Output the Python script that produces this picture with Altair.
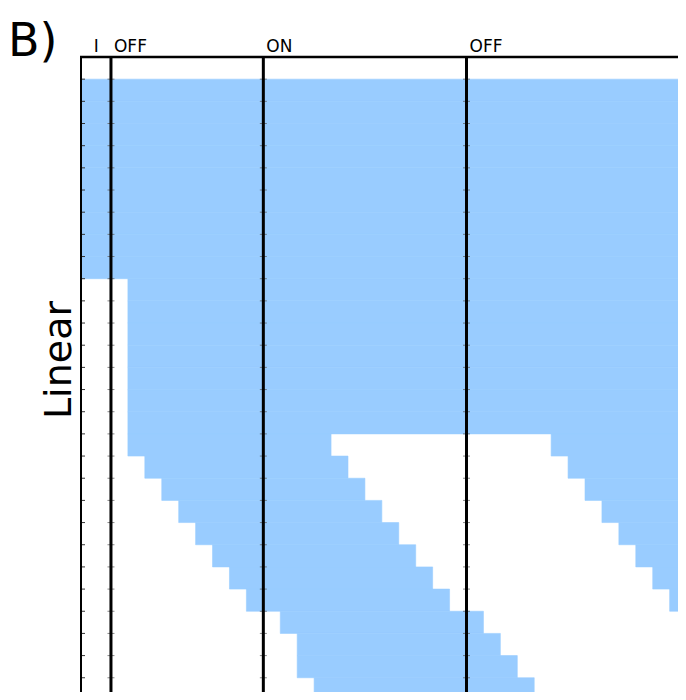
import altair as alt
import pandas as pd

# ---- data ----
# blue segments: row index (0 = top row), start/end in column units
seg_row = [1, 2, 3, 4, 5, 6, 7, 8, 9,
           10, 11, 12, 13, 14, 15, 16,
           17, 17, 18, 18, 19, 19, 20, 20, 21, 21, 22, 22, 23, 23, 24, 24,
           25, 26, 27, 28]
seg_start = [-2, -2, -2, -2, -2, -2, -2, -2, -2,
             1, 1, 1, 1, 1, 1, 1,
             1, 26, 2, 27, 3, 28, 4, 29, 5, 30, 6, 31, 7, 32, 8, 33,
             10, 11, 11, 12]
seg_end = [35, 35, 35, 35, 35, 35, 35, 35, 35,
           35, 35, 35, 35, 35, 35, 35,
           13, 35, 14, 35, 15, 35, 16, 35, 17, 35, 18, 35, 19, 35, 20, 35,
           22, 23, 24, 25]

phase_labels = ["I", "OFF", "ON", "OFF"]
phase_label_x = [-1.2, 0, 9, 21]
phase_lines = [0, 9, 21]
row_boundaries = list(range(1, 29))

PX_X = 16.93          # pixels per column unit
PX_Y = 22.17          # pixels per row
W, H = 597, 635       # plot area (kept inside the page, no overflow)
X_DOMAIN = [-1.77, -1.77 + W / PX_X]
Y_DOMAIN = [0, H / PX_Y]
BLUE = "#99ccff"
FONT = "DejaVu Sans"

xs = alt.Scale(domain=X_DOMAIN, nice=False, zero=False)
ys = alt.Scale(domain=Y_DOMAIN, nice=False, zero=False, reverse=True)

segs = pd.DataFrame({"r0": seg_row, "x0": seg_start, "x1": seg_end})
segs["r1"] = segs["r0"] + 1

rects = alt.Chart(segs).mark_rect(
    color=BLUE, stroke=BLUE, strokeWidth=0.6, clip=True
).encode(
    x=alt.X("x0:Q", scale=xs, axis=None),
    x2="x1:Q",
    y=alt.Y("r0:Q", scale=ys, axis=None),
    y2="r1:Q",
)

lines_df = pd.DataFrame({"x": phase_lines})
vlines = alt.Chart(lines_df).mark_rule(color="black", strokeWidth=3).encode(
    x=alt.X("x:Q", scale=xs, axis=None),
    y=alt.value(0),
    y2=alt.value(H),
)

one = pd.DataFrame({"a": [0]})
left_frame = alt.Chart(one).mark_rule(color="black", strokeWidth=2).encode(
    x=alt.value(0), y=alt.value(0), y2=alt.value(H)
)
top_frame = alt.Chart(one).mark_rule(color="black", strokeWidth=2.5).encode(
    x=alt.value(-1), x2=alt.value(W), y=alt.value(0)
)

tick_rows = []
for lx in phase_lines:
    for b in row_boundaries:
        tick_rows.append({"x": lx, "b": b})
ticks_df = pd.DataFrame(tick_rows)
inner_ticks = alt.Chart(ticks_df).mark_tick(
    orient="horizontal", size=7, thickness=1, color="#555555"
).encode(
    x=alt.X("x:Q", scale=xs, axis=None),
    y=alt.Y("b:Q", scale=ys, axis=None),
)

bdf = pd.DataFrame({"b": row_boundaries})
left_ticks = alt.Chart(bdf).mark_rule(color="#333333", strokeWidth=1).encode(
    x=alt.value(0), x2=alt.value(4),
    y=alt.Y("b:Q", scale=ys, axis=None),
)

lab_df = pd.DataFrame({"label": phase_labels, "x": phase_label_x})
labels = alt.Chart(lab_df).mark_text(
    font=FONT, fontSize=17, align="left", baseline="alphabetic", dx=3, color="black"
).encode(
    x=alt.X("x:Q", scale=xs, axis=None),
    y=alt.value(-5),
    text="label:N",
)

panel = alt.Chart(one).mark_text(
    font=FONT, fontSize=46, align="left", baseline="alphabetic", color="black"
).encode(x=alt.value(-73), y=alt.value(-1), text=alt.value("B)"))

ylab = alt.Chart(one).mark_text(
    font=FONT, fontSize=38, align="center", baseline="alphabetic", angle=270, color="black"
).encode(x=alt.value(-10), y=alt.value(303), text=alt.value("Linear"))

chart = alt.layer(
    rects, inner_ticks, vlines, left_ticks, left_frame, top_frame, labels, panel, ylab
).properties(
    width=W,
    height=H,
    padding={"left": 73, "top": 49, "right": 0, "bottom": 0},
    autosize=alt.AutoSizeParams(type="none"),
).configure_view(strokeWidth=0)

chart.save("out.html", embed_options={"renderer": "svg", "actions": False})
